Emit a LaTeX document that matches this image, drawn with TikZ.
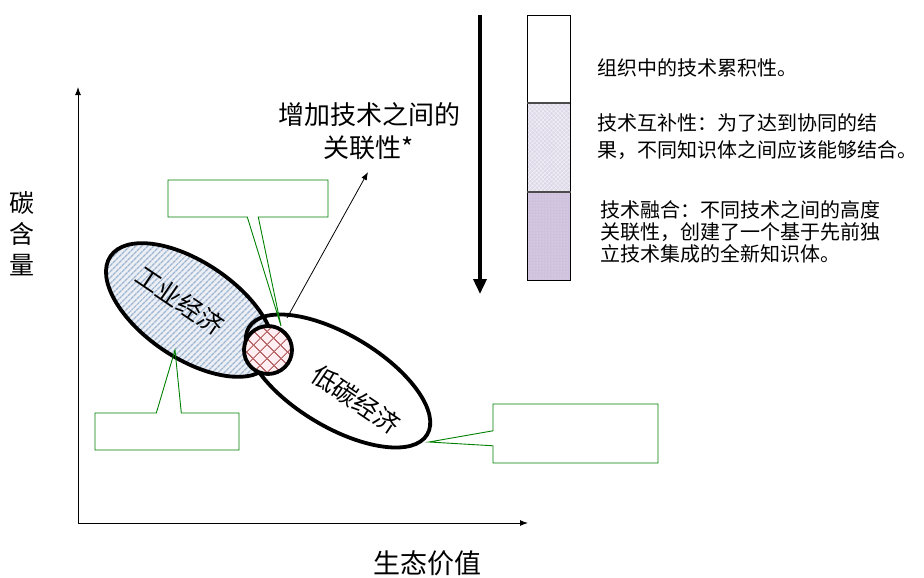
\documentclass[tikz,border=0pt]{standalone}
\usepackage{fontspec}
\newfontfamily\cjk{Noto Sans CJK SC}
\usetikzlibrary{shapes.geometric,shapes.callouts,patterns,patterns.meta,arrows.meta}
\definecolor{cgreen}{RGB}{0,128,0}
\definecolor{stripe}{RGB}{160,182,208}
\definecolor{stripebg}{RGB}{236,240,246}
\definecolor{hatch}{RGB}{185,105,105}
\definecolor{pinkbg}{RGB}{255,238,242}
\definecolor{barmid}{RGB}{222,216,232}
\definecolor{barbot}{RGB}{208,194,222}
\begin{document}
\begin{tikzpicture}[x=1pt,y=-1pt,font=\cjk,
  callbox/.style={rectangle callout,draw=cgreen,line width=0.9pt,inner sep=0pt},
  bigell/.style={ellipse,draw=black,line width=3.8pt,inner sep=0pt},
  barseg/.style={rectangle,draw=black,line width=0.8pt,minimum width=43pt,anchor=north west,inner sep=0pt},
  bartext/.style={anchor=west,align=left,inner sep=0pt},
  elltext/.style={font=\cjk\fontsize{25}{25}\selectfont,inner sep=0pt}]
\useasboundingbox (0,0) rectangle (924,578);

% axes
\coordinate (O) at (78,523);
\coordinate (ytop) at (78,87);
\coordinate (xend) at (528,523);
\draw[line width=1pt,-{Latex[length=8pt,width=6pt]}] (O) -- (ytop);
\draw[line width=1pt,-{Latex[length=8pt,width=6pt]}] (O) -- (xend);
\node[font=\cjk\fontsize{25}{31}\selectfont,align=center,inner sep=0pt] (ylab) at (22,234) {碳\\含\\量};
\node[font=\cjk\fontsize{27}{27}\selectfont,inner sep=0pt] (xlab) at (427,563) {生态价值};

% big arrow
\coordinate (bs) at (480,15);
\coordinate (be) at (480,294);
\draw[line width=3.5pt,-{Triangle[length=15pt,width=13pt]}] (bs) -- (be);

% bar
\node[barseg,minimum height=88pt,fill=white] (b1) at (527,15) {};
\node[barseg,minimum height=89pt,preaction={fill=barmid},pattern={Hatch[angle=45,distance=3pt,line width=0.4pt]},pattern color=white!70!barmid] (b2) at (527,103) {};
\node[barseg,minimum height=88pt,preaction={fill=barbot},pattern=dots,pattern color=white!60!barbot] (b3) at (527,192) {};
\draw[line width=1.5pt,black!70] (b2.north west) -- (b2.north east);
\draw[line width=1.5pt,black!70] (b3.north west) -- (b3.north east);

% bar texts
\node[bartext,font=\cjk\fontsize{20}{24}\selectfont] (t1) at (597,68) {组织中的技术累积性。};
\node[bartext,font=\cjk\fontsize{20}{27}\selectfont] (t2) at (597,136.5) {技术互补性：为了达到协同的结\\果，不同知识体之间应该能够结合。};
\node[bartext,font=\cjk\fontsize{20}{22}\selectfont] (t3) at (600,232) {技术融合：不同技术之间的高度\\关联性，创建了一个基于先前独\\立技术集成的全新知识体。};

% relation text
\node[font=\cjk\fontsize{26}{33}\selectfont,align=center,inner sep=0pt] (rel) at (369,131) {增加技术之间的\\关联性*};

% ellipses
\node[bigell,minimum width=192pt,minimum height=96pt,rotate=-34,
  preaction={fill=stripebg},pattern={Lines[angle=45,distance=4pt,line width=1.4pt]},pattern color=stripe] (e1) at (190,310) {};
\node[bigell,minimum width=208pt,minimum height=92pt,rotate=-31] (e2) at (338,381) {};
\node[circle,draw=black,line width=3.8pt,minimum size=48pt,inner sep=0pt,
  preaction={fill=pinkbg},pattern={Hatch[angle=45,distance=10.5pt,line width=1.2pt]},pattern color=hatch] (c) at (268,350) {};

\node[elltext,rotate=-34] (l1) at (180,300) {工业经济};
\node[elltext,rotate=-34] (l2) at (356,400) {低碳经济};

% thin arrow
\coordinate (as) at (287,318);
\coordinate (ae) at (368,172);
\draw[line width=0.8pt,-{Latex[length=8pt,width=6pt]}] (as) -- (ae);

% callouts
\coordinate (p1) at (281,326);
\coordinate (p2) at (175,350);
\coordinate (p3) at (429,442);
\node[callbox,minimum width=160pt,minimum height=37pt,callout pointer width=11pt,callout absolute pointer={(p1)}] (k1) at (248,198.5) {};
\node[callbox,minimum width=144pt,minimum height=37pt,callout pointer width=25pt,callout absolute pointer={(p2)}] (k2) at (167,431.5) {};
\node[callbox,minimum width=165pt,minimum height=59pt,callout pointer width=15pt,callout absolute pointer={(p3)}] (k3) at (575.5,433.5) {};
\end{tikzpicture}
\end{document}
